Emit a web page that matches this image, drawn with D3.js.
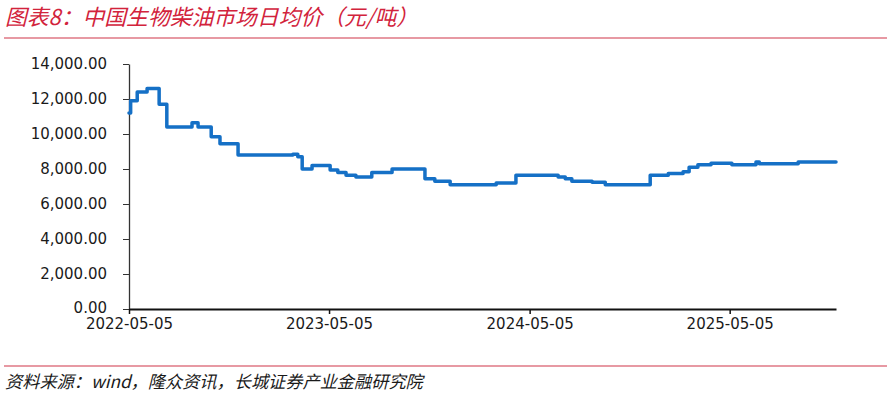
<!DOCTYPE html>
<html>
  <head>
    <meta charset="utf-8" />
    <title>中国生物柴油市场日均价</title>
    <script src="https://d3js.org/d3.v7.min.js"></script>
    <style>
        body { margin: 0; background: #fff; }
        .title {
            font-family: "Noto Sans CJK SC", sans-serif;
            font-size: 21.8px;
            font-style: italic;
            fill: #d2233c;
        }
        .source {
            font-family: "Noto Sans CJK SC", sans-serif;
            font-size: 17.2px;
            font-style: italic;
            fill: #1a1a1a;
        }
        .axis text {
            font-family: "DejaVu Sans", sans-serif;
            font-size: 15px;
            fill: #1a1a1a;
        }
    </style>
  </head>
<body>
    <svg id="chart" width="891" height="395"></svg>

    <script>
        // price change points (元/吨)
        var dates = [
            "2022-05-05", "2022-05-08", "2022-05-20", "2022-06-07", "2022-06-29",
            "2022-07-13", "2022-08-28", "2022-09-08", "2022-10-02", "2022-10-18",
            "2022-11-20", "2023-02-28", "2023-03-09", "2023-03-17", "2023-04-04",
            "2023-05-07", "2023-05-21", "2023-06-05", "2023-06-23", "2023-07-22",
            "2023-08-28", "2023-10-27", "2023-11-14", "2023-12-12", "2024-03-05",
            "2024-04-10", "2024-06-26", "2024-07-09", "2024-07-21", "2024-08-27",
            "2024-09-20", "2024-12-11", "2025-01-13", "2025-02-09", "2025-02-20",
            "2025-03-08", "2025-04-01", "2025-05-09", "2025-06-22", "2025-06-28",
            "2025-09-07", "2025-11-15"
        ];
        var prices = [
            11200, 11900, 12400, 12600, 11700,
            10400, 10650, 10400, 9850, 9450,
            8800, 8850, 8700, 8000, 8200,
            7950, 7800, 7650, 7550, 7800,
            8000, 7450, 7300, 7100, 7200,
            7650, 7550, 7450, 7300, 7250,
            7100, 7650, 7750, 7850, 8100,
            8250, 8330, 8250, 8400, 8300,
            8400, 8400
        ];
        var yTicks = [0, 2000, 4000, 6000, 8000, 10000, 12000, 14000];
        var xTicks = ["2022-05-05", "2023-05-05", "2024-05-05", "2025-05-05"];

        var titleText = "图表8：中国生物柴油市场日均价（元/吨）";
        var sourceText = "资料来源：wind，隆众资讯，长城证券产业金融研究院";

        var parse = d3.timeParse("%Y-%m-%d");
        var data = dates.map(function(d, i) {
            return { date: parse(d), value: prices[i] };
        });

        var svg = d3.select("#chart");

        // header and footer
        svg.append("text")
            .attr("class", "title")
            .attr("x", 5)
            .attr("y", 25)
            .text(titleText);
        svg.append("line")
            .attr("x1", 4).attr("x2", 887)
            .attr("y1", 38).attr("y2", 38)
            .attr("stroke", "#cf3448")
            .attr("stroke-width", 1.2);
        svg.append("line")
            .attr("x1", 4).attr("x2", 887)
            .attr("y1", 366).attr("y2", 366)
            .attr("stroke", "#cf3448")
            .attr("stroke-width", 1.2);
        svg.append("text")
            .attr("class", "source")
            .attr("x", 5)
            .attr("y", 388)
            .text(sourceText);

        var x = d3.scaleTime()
            .domain([parse(dates[0]), parse(dates[dates.length - 1])])
            .range([129, 836]);
        var y = d3.scaleLinear()
            .domain([0, 14000])
            .range([309, 64]);

        var yAxis = svg.append("g")
            .attr("class", "axis")
            .attr("transform", "translate(129,0)")
            .call(d3.axisLeft(y)
                .tickValues(yTicks)
                .tickFormat(d3.format(",.2f"))
                .tickSize(6)
                .tickSizeOuter(0)
                .tickPadding(16));
        yAxis.select(".domain").attr("stroke", "#333").attr("stroke-width", 1.3);
        yAxis.selectAll(".tick line").attr("stroke", "#333");
        // lift the bottom label a touch so it clears the date labels
        yAxis.selectAll(".tick text").filter(function(d) { return d === 0; })
            .attr("dy", "0.2em");

        var xAxis = svg.append("g")
            .attr("class", "axis")
            .attr("transform", "translate(0,309)")
            .call(d3.axisBottom(x)
                .tickValues(xTicks.map(parse))
                .tickFormat(d3.timeFormat("%Y-%m-%d"))
                .tickSize(5)
                .tickSizeOuter(0)
                .tickPadding(4));
        xAxis.select(".domain").attr("stroke", "#111").attr("stroke-width", 2);
        xAxis.selectAll(".tick line").attr("stroke", "#111").attr("stroke-width", 1.5);

        var line = d3.line()
            .curve(d3.curveStepAfter)
            .x(function(d) { return x(d.date); })
            .y(function(d) { return y(d.value); });

        svg.append("path")
            .datum(data)
            .attr("fill", "none")
            .attr("stroke", "#1570c6")
            .attr("stroke-width", 3.5)
            .attr("stroke-linejoin", "round")
            .attr("stroke-linecap", "round")
            .attr("d", line);
    </script>
</body>
</html>
